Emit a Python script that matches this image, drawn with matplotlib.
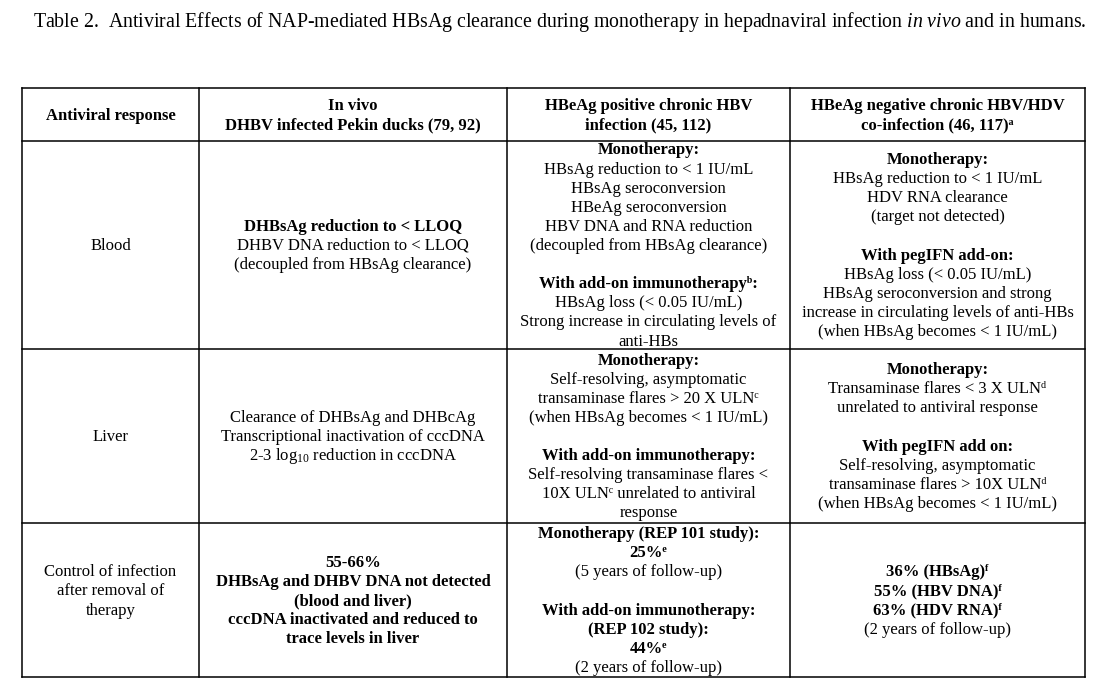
import matplotlib.pyplot as plt

plt.rcParams['font.family'] = ['Liberation Serif', 'DejaVu Serif']
plt.rcParams['mathtext.fontset'] = 'custom'
plt.rcParams['mathtext.rm'] = 'Liberation Serif'
plt.rcParams['mathtext.it'] = 'Liberation Serif:italic'
plt.rcParams['mathtext.bf'] = 'Liberation Serif:bold'

# Textos de la tabla (texto, negrita); superindices como caracteres unicode
titulo = (r"Table 2.  Antiviral Effects of NAP-mediated HBsAg clearance during "
          r"monotherapy in hepadnaviral infection $\mathit{in\ vivo}$ and in humans.")

encabezados = [
    [("Antiviral response", True)],
    [("In vivo", True), ("DHBV infected Pekin ducks (79, 92)", True)],
    [("HBeAg positive chronic HBV", True), ("infection (45, 112)", True)],
    [("HBeAg negative chronic HBV/HDV", True), ("co-infection (46, 117)ᵃ", True)],
]

fila_sangre = [
    [("Blood", False)],
    [("DHBsAg reduction to < LLOQ", True),
     ("DHBV DNA reduction to < LLOQ", False),
     ("(decoupled from HBsAg clearance)", False)],
    [("Monotherapy:", True),
     ("HBsAg reduction to < 1 IU/mL", False),
     ("HBsAg seroconversion", False),
     ("HBeAg seroconversion", False),
     ("HBV DNA and RNA reduction", False),
     ("(decoupled from HBsAg clearance)", False),
     ("", False),
     ("With add-on immunotherapyᵇ:", True),
     ("HBsAg loss (< 0.05 IU/mL)", False),
     ("Strong increase in circulating levels of", False),
     ("anti-HBs", False)],
    [("Monotherapy:", True),
     ("HBsAg reduction to < 1 IU/mL", False),
     ("HDV RNA clearance", False),
     ("(target not detected)", False),
     ("", False),
     ("With pegIFN add-on:", True),
     ("HBsAg loss (< 0.05 IU/mL)", False),
     ("HBsAg seroconversion and strong", False),
     ("increase in circulating levels of anti-HBs", False),
     ("(when HBsAg becomes < 1 IU/mL)", False)],
]

fila_higado = [
    [("Liver", False)],
    [("Clearance of DHBsAg and DHBcAg", False),
     ("Transcriptional inactivation of cccDNA", False),
     (r"2-3 log$_{10}$ reduction in cccDNA", False)],
    [("Monotherapy:", True),
     ("Self-resolving, asymptomatic", False),
     ("transaminase flares > 20 X ULNᶜ", False),
     ("(when HBsAg becomes < 1 IU/mL)", False),
     ("", False),
     ("With add-on immunotherapy:", True),
     ("Self-resolving transaminase flares <", False),
     ("10X ULNᶜ unrelated to antiviral", False),
     ("response", False)],
    [("Monotherapy:", True),
     ("Transaminase flares < 3 X ULNᵈ", False),
     ("unrelated to antiviral response", False),
     ("", False),
     ("With pegIFN add on:", True),
     ("Self-resolving, asymptomatic", False),
     ("transaminase flares > 10X ULNᵈ", False),
     ("(when HBsAg becomes < 1 IU/mL)", False)],
]

fila_control = [
    [("Control of infection", False),
     ("after removal of", False),
     ("therapy", False),
     ("", False)],
    [("55-66%", True),
     ("DHBsAg and DHBV DNA not detected", True),
     ("(blood and liver)", True),
     ("cccDNA inactivated and reduced to", True),
     ("trace levels in liver", True)],
    [("Monotherapy (REP 101 study):", True),
     ("25%ᵉ", True),
     ("(5 years of follow-up)", False),
     ("", False),
     ("With add-on immunotherapy:", True),
     ("(REP 102 study):", True),
     ("44%ᵉ", True),
     ("(2 years of follow-up)", False)],
    [("36% (HBsAg)ᶠ", True),
     ("55% (HBV DNA)ᶠ", True),
     ("63% (HDV RNA)ᶠ", True),
     ("(2 years of follow-up)", False)],
]

filas = [encabezados, fila_sangre, fila_higado, fila_control]

# Bordes de la tabla en pixeles
columnas_x = [22, 199, 507, 790, 1085]
filas_y = [88, 141, 349, 523, 677]
interlineado = 19.1
tam_letra = 12
baja_base = 5  # distancia del centro de la linea a la linea base

fig = plt.figure(figsize=(11.01, 6.83), dpi=100)
ax = fig.add_axes([0, 0, 1, 1])
ax.set_xlim(0, 1101)
ax.set_ylim(683, 0)
ax.axis('off')

ax.text(33, 22 + 5, titulo, fontsize=14.3, ha='left', va='baseline')

# Lineas de la tabla
for x in columnas_x:
    ax.plot([x, x], [filas_y[0], filas_y[-1]], color='black', lw=1.1)
for y in filas_y:
    ax.plot([columnas_x[0], columnas_x[-1]], [y, y], color='black', lw=1.1)

# Texto de las celdas, centrado en cada celda
for i, fila in enumerate(filas):
    yc = (filas_y[i] + filas_y[i + 1]) / 2
    for j, celda in enumerate(fila):
        xc = (columnas_x[j] + columnas_x[j + 1]) / 2
        n = len(celda)
        for k, (texto, negrita) in enumerate(celda):
            if texto == "":
                continue
            y = yc + (k - (n - 1) / 2) * interlineado + baja_base
            ax.text(xc, y, texto, fontsize=tam_letra, ha='center', va='baseline',
                    fontweight='bold' if negrita else 'normal')

plt.savefig('out.png', dpi=100)
